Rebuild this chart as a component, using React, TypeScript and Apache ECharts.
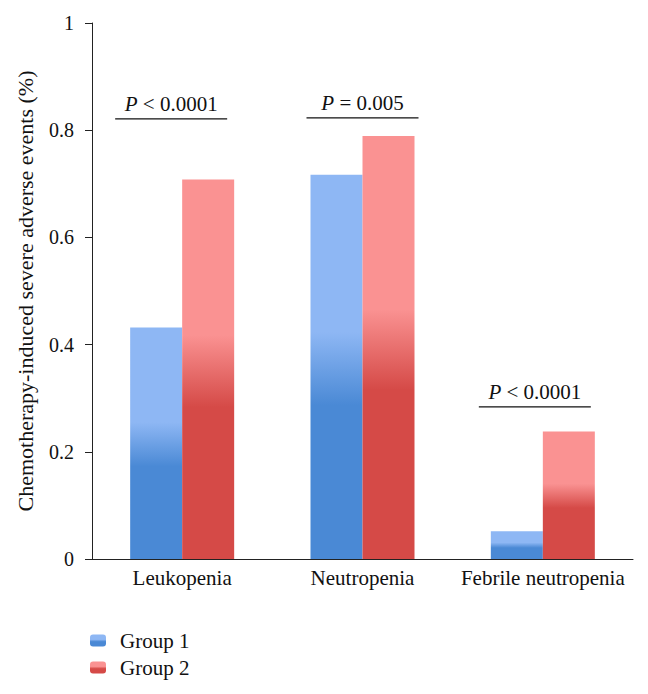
import React, { useEffect, useRef } from "react";
import * as echarts from "echarts";

const categories = ["Leukopenia", "Neutropenia", "Febrile neutropenia"];
const group1 = [0.432, 0.717, 0.052];
const group2 = [0.708, 0.789, 0.238];
const seriesNames = ["Group 1", "Group 2"];
const pLabels = ["P < 0.0001", "P = 0.005", "P < 0.0001"];
const pLevels = [0.821, 0.823, 0.284];
const yTicks = [0, 0.2, 0.4, 0.6, 0.8, 1];

const ANNOT_DX = [-11, 0, -8];
const FONT = "'Liberation Serif', 'Times New Roman', serif";

const grad = (light: string, dark: string) =>
  new echarts.graphic.LinearGradient(0, 0, 0, 1, [
    { offset: 0, color: light },
    { offset: 0.41, color: light },
    { offset: 0.6, color: dark },
    { offset: 1, color: dark },
  ]);

export default function App() {
  const ref = useRef<HTMLDivElement>(null);
  useEffect(() => {
    if (!ref.current) return;
    const chart = echarts.init(ref.current, undefined, { renderer: "svg" });
    const annotData = pLevels.map((v, i) => [i, v, i]);
    chart.setOption({
      animation: false,
      backgroundColor: "#ffffff",
      textStyle: { fontFamily: FONT },
      grid: { left: 92, right: 15, top: 23, bottom: 135, containLabel: false },
      legend: {
        data: seriesNames,
        orient: "vertical",
        left: 90,
        top: 630,
        padding: 0,
        itemWidth: 16,
        itemHeight: 12,
        itemGap: 6,
        textStyle: { fontFamily: FONT, fontSize: 21, color: "#111", padding: [0, 0, 0, 9] },
      },
      xAxis: {
        type: "category",
        data: categories,
        axisLine: { show: true, lineStyle: { color: "#222", width: 1 } },
        axisTick: { show: false },
        axisLabel: { fontFamily: FONT, fontSize: 21, color: "#111", margin: 8, interval: 0 },
      },
      yAxis: {
        type: "value",
        min: 0,
        max: 1,
        interval: 0.2,
        name: "Chemotherapy-induced severe adverse events (%)",
        nameLocation: "middle",
        nameGap: 56,
        nameTextStyle: { fontFamily: FONT, fontSize: 22, color: "#111" },
        axisLine: { show: true, lineStyle: { color: "#222", width: 1 } },
        axisTick: { show: true, length: 7, lineStyle: { color: "#222" } },
        splitLine: { show: false },
        axisLabel: {
          fontFamily: FONT,
          fontSize: 20,
          color: "#111",
          margin: 18,
          formatter: (v: number) => {
            const t = yTicks.find((x) => Math.abs(x - v) < 1e-9);
            return t === undefined ? "" : String(t);
          },
        },
      },
      series: [
        {
          name: seriesNames[0],
          type: "bar",
          data: group1,
          barWidth: 52,
          barGap: "0%",
          itemStyle: { color: grad("#8EB7F4", "#4A89D5") },
        },
        {
          name: seriesNames[1],
          type: "bar",
          data: group2,
          barWidth: 52,
          barGap: "0%",
          itemStyle: { color: grad("#FA9292", "#D54A47") },
        },
        {
          type: "custom",
          silent: true,
          data: annotData,
          renderItem: (params: any, api: any) => {
            const idx = api.value(0);
            const p = api.coord([idx, api.value(1)]);
            const cx = p[0] + ANNOT_DX[idx];
            const half = 56;
            const label = pLabels[idx];
            const rest = label.slice(1);
            return {
              type: "group",
              children: [
                {
                  type: "line",
                  shape: { x1: cx - half, y1: p[1], x2: cx + half, y2: p[1] },
                  style: { stroke: "#111", lineWidth: 1.3 },
                },
                {
                  type: "text",
                  x: cx,
                  y: p[1] - 15,
                  style: {
                    text: "{i|P}" + rest,
                    font: `21px ${FONT}`,
                    fill: "#111",
                    align: "center",
                    verticalAlign: "middle",
                    rich: {
                      i: { fontStyle: "italic", fontFamily: FONT, fontSize: 21, fill: "#111" },
                    },
                  },
                },
              ],
            };
          },
        },
      ],
    });
    return () => chart.dispose();
  }, []);
  return (
    <div
      ref={ref}
      style={{ position: "fixed", left: 0, top: 0, width: 648, height: 694 }}
    />
  );
}
